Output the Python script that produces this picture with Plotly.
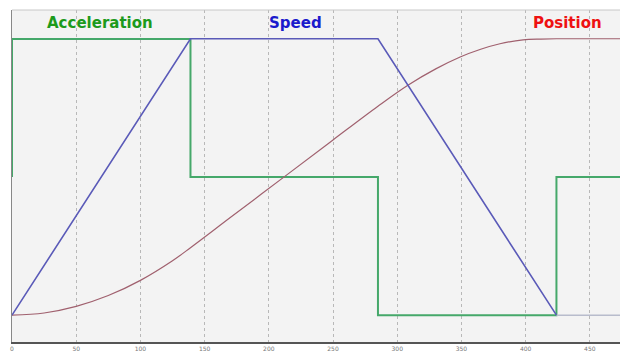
import plotly.graph_objects as go

# ---- data ----
accel_t = [0, 0, 139, 139, 285, 285, 424, 424, 474]
accel_v = [0, 1, 1, 0, 0, -1, -1, 0, 0]

speed_t = [0, 139, 285, 424]
speed_v = [0.0, 1.0, 1.0, 0.0]

idle_t = [424, 474]
idle_v = [0.0, 0.0]

pos_t = [0, 25, 50, 75, 100, 125, 139, 170, 213, 250, 285, 308, 330, 349, 365, 380, 398, 412, 424, 474]
pos_v = [0.0, 0.008, 0.032, 0.071, 0.126, 0.197, 0.244, 0.353, 0.504, 0.634, 0.756, 0.831, 0.891, 0.934, 0.962, 0.982, 0.996, 0.999, 1.0, 1.0]

x_ticks = [0, 50, 100, 150, 200, 250, 300, 350, 400, 450]
titles = ["Acceleration", "Speed", "Position"]

fig = go.Figure()
fig.add_trace(go.Scatter(x=idle_t, y=idle_v, mode="lines", yaxis="y2",
                         line=dict(color="#b8bccc", width=1.5), hoverinfo="skip"))
fig.add_trace(go.Scatter(x=pos_t, y=pos_v, mode="lines", yaxis="y2",
                         line=dict(color="#a0606e", width=1.2, shape="spline", smoothing=1.0)))
fig.add_trace(go.Scatter(x=speed_t, y=speed_v, mode="lines", yaxis="y2",
                         line=dict(color="#5a5ab8", width=1.6)))
fig.add_trace(go.Scatter(x=accel_t, y=accel_v, mode="lines", yaxis="y",
                         line=dict(color="#45a86a", width=2)))

fig.update_layout(
    width=620, height=352,
    margin=dict(l=12, r=0, t=10, b=8),
    paper_bgcolor="#ffffff",
    plot_bgcolor="#f3f3f3",
    showlegend=False,
    xaxis=dict(range=[0, 473.5], tickvals=x_ticks, ticktext=[str(v) for v in x_ticks],
               showgrid=True, gridcolor="#b8b8b8", griddash="dot", gridwidth=1,
               showline=True, linecolor="#555555", linewidth=1.5,
               ticks="", ticklen=0, tickfont=dict(size=6, color="#777777", family="DejaVu Sans"),
               zeroline=False),
    yaxis=dict(range=[-1.194, 1.209], showgrid=False, zeroline=False,
               showticklabels=False, showline=True, linecolor="#888888", linewidth=1),
    yaxis2=dict(range=[-0.097, 1.104], overlaying="y", showgrid=False, zeroline=False,
                showticklabels=False, showline=False),
    shapes=[dict(type="line", xref="paper", yref="paper", x0=0, x1=1, y0=1, y1=1,
                 line=dict(color="#c8c8c8", width=1))],
)

ann_x = [0.145, 0.467, 0.914]
ann_c = ["#1c9a1c", "#1a1acc", "#ee1111"]
for txt, ax, c in zip(titles, ann_x, ann_c):
    fig.add_annotation(text="<b>" + txt + "</b>", x=ax, y=0.961, xref="paper", yref="paper",
                       showarrow=False, xanchor="center", yanchor="middle",
                       font=dict(size=15, color=c, family="DejaVu Sans"))

fig.write_html("out.html", config={"displayModeBar": False},
               post_script="document.body.style.margin='0';document.body.style.overflow='hidden';")
